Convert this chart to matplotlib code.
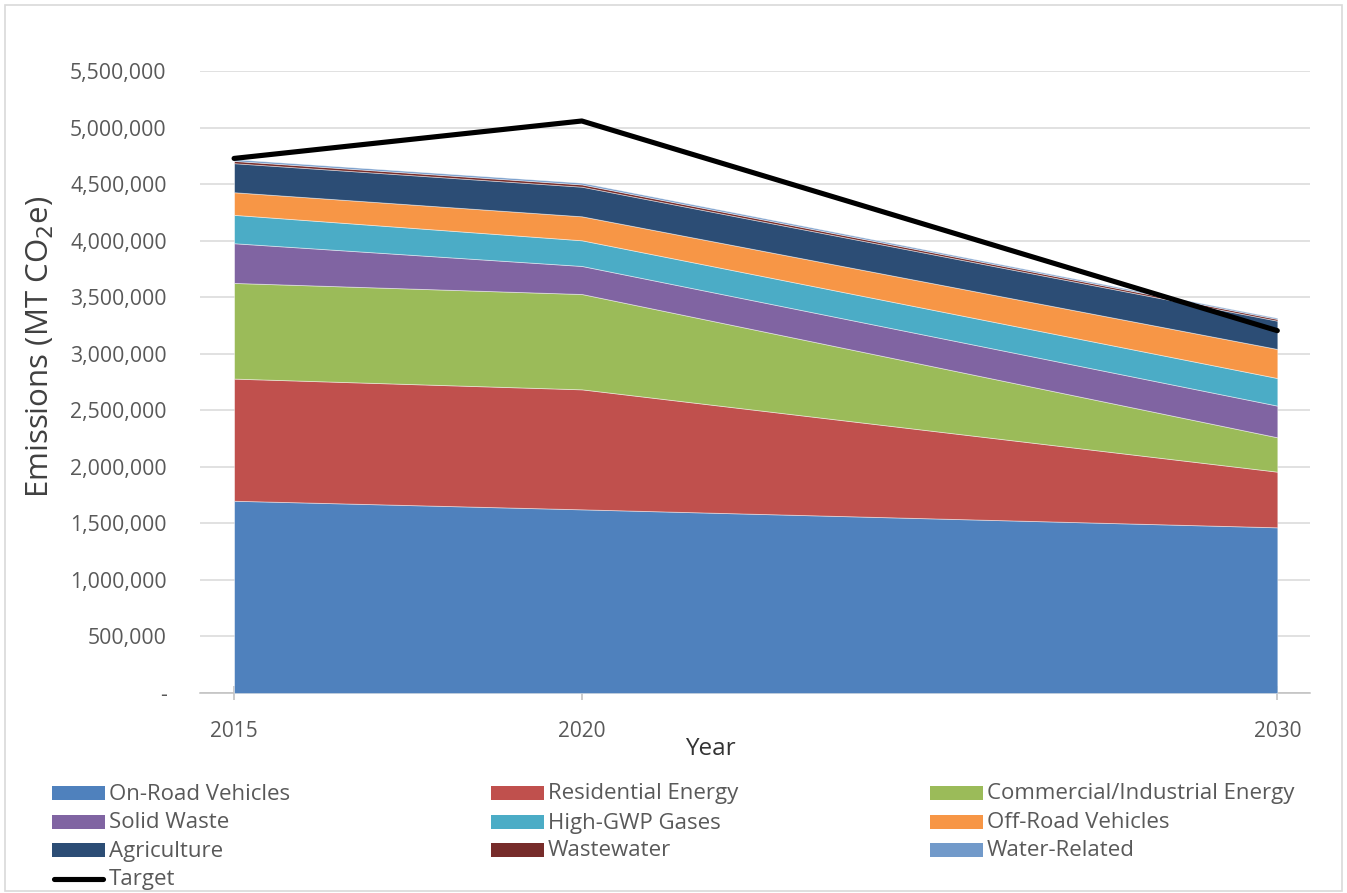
import matplotlib
matplotlib.use("Agg")
import matplotlib.pyplot as plt
from matplotlib.patches import Rectangle
from matplotlib.lines import Line2D
from matplotlib.ticker import FuncFormatter

years = [2015, 2020, 2030]
categories = ["On-Road Vehicles", "Residential Energy", "Commercial/Industrial Energy",
              "Solid Waste", "High-GWP Gases", "Off-Road Vehicles",
              "Agriculture", "Wastewater", "Water-Related"]
on_road = [1700000, 1624000, 1465000]
residential = [1080000, 1061000, 492000]
commercial = [846000, 843000, 304000]
solid_waste = [351000, 248000, 280000]
high_gwp = [251000, 227000, 244000]
off_road = [200000, 212000, 257000]
agriculture = [257000, 262000, 250000]
wastewater = [20000, 20000, 15000]
water_related = [15000, 15000, 10000]
target = [4727000, 5058000, 3204000]

series = [on_road, residential, commercial, solid_waste, high_gwp, off_road,
          agriculture, wastewater, water_related]
colors = ["#4F81BD", "#C0504D", "#9BBB59", "#8064A2", "#4BACC6", "#F79646",
          "#2C4D75", "#772C2A", "#729ACA"]

plt.rcParams['font.family'] = ['Open Sans', 'DejaVu Sans']
TXT = "#595959"
W, H = 1347, 893

fig = plt.figure(figsize=(13.47, 8.93), dpi=100)
ax = fig.add_axes([200/W, 1-693/H, 1110/W, 622/H])

ax.stackplot(years, *series, colors=colors, edgecolor=(1, 1, 1, 0.5), linewidth=0.6,
             zorder=2)
ax.plot(years, target, color="black", lw=3.7, solid_capstyle="round", zorder=3)

ax.set_xlim(2014.51, 2030.47)
ax.set_ylim(0, 5500000)
ax.set_yticks(range(0, 5500001, 500000))
ax.yaxis.set_major_formatter(FuncFormatter(lambda v, p: "-" if v == 0 else f"{int(v):,}"))
ax.set_xticks(years)
ax.grid(axis="y", color="#D9D9D9", lw=1.1, zorder=0)
ax.set_axisbelow(True)
for s in ["top", "right", "left"]:
    ax.spines[s].set_visible(False)
ax.spines["bottom"].set_color("#BFBFBF")
ax.spines["bottom"].set_linewidth(1.1)
ax.spines["bottom"].set_zorder(1)
ax.tick_params(axis="y", length=0, pad=24, labelsize=15.3, labelcolor=TXT)
ax.tick_params(axis="x", direction="inout", length=10, width=1.1, color="#BFBFBF",
               pad=15, labelsize=15, labelcolor=TXT)

ax.set_xlabel("Year", fontsize=17.5, color="#333333", fontweight="medium")
ax.xaxis.set_label_coords((710-200)/1110, -(749-693)/622)
ax.xaxis.label.set_va("center")
ax.set_ylabel("Emissions (MT CO$_2$e)", fontsize=22.5, color="#404040")
ax.yaxis.set_label_coords(-(200-40)/1110, (693-347)/622)
ax.yaxis.label.set_va("center")

# legend (manual, row-major like reference)
legend_items = [(categories[i], colors[i]) for i in range(9)] + [("Target", None)]
col_x = [52, 491, 930]
row_y = [793, 822, 850, 879]
for i, (lab, c) in enumerate(legend_items):
    r, cidx = divmod(i, 3)
    x0 = col_x[cidx]
    yc = row_y[r]
    if c is not None:
        fig.add_artist(Rectangle((x0/W, 1-(yc+7)/H), 53/W, 14/H, transform=fig.transFigure,
                                 facecolor=c, edgecolor="none"))
    else:
        fig.add_artist(Line2D([(x0+2)/W, (x0+51)/W], [1-yc/H, 1-yc/H], transform=fig.transFigure,
                              color="black", lw=3.7, solid_capstyle="round"))
    fig.text((x0+57)/W, 1-(yc+1)/H, lab, fontsize=16, color=TXT, va="center", ha="left")

fig.add_artist(Rectangle((5/W, 1-891/H), 1337/W, 886/H, transform=fig.transFigure,
                         facecolor="none", edgecolor="#D9D9D9", lw=1.2))

fig.savefig("out.png", dpi=100)
